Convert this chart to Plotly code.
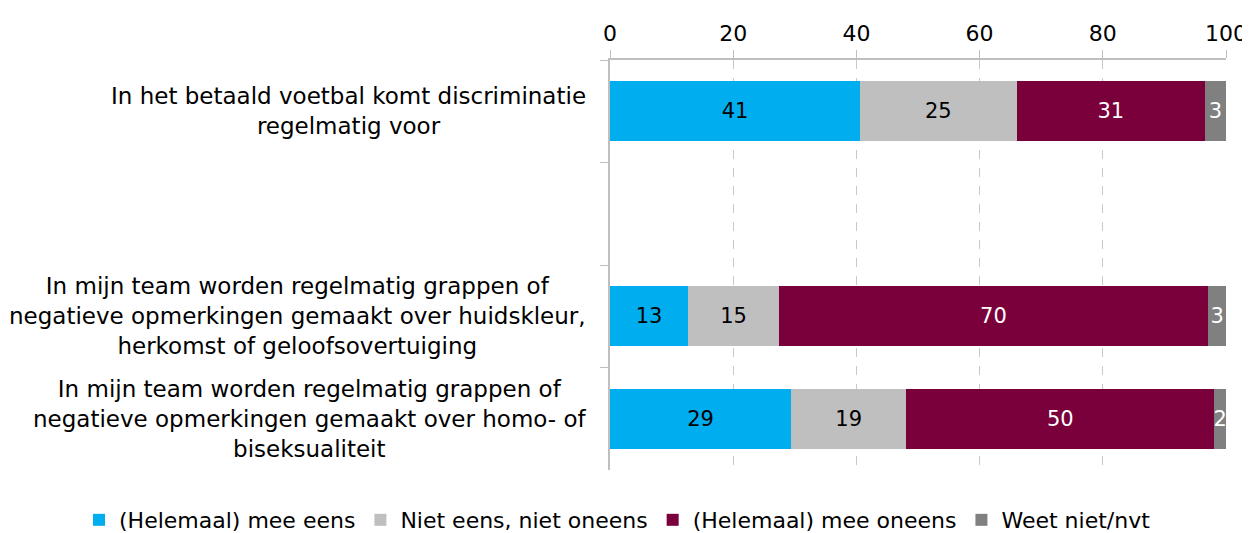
import plotly.graph_objects as go

categories = [
    "In het betaald voetbal komt discriminatie<br>regelmatig voor",
    "gap",
    "In mijn team worden regelmatig grappen of<br>negatieve opmerkingen gemaakt over huidskleur,<br>herkomst of geloofsovertuiging",
    "In mijn team worden regelmatig grappen of<br>negatieve opmerkingen gemaakt over homo- of<br>biseksualiteit",
]
statements = [categories[0], categories[2], categories[3]]

series_names = ["(Helemaal) mee eens", "Niet eens, niet oneens", "(Helemaal) mee oneens", "Weet niet/nvt"]
mee_eens = [40.6, 12.7, 29.4]
neutraal = [25.4, 14.7, 18.7]
oneens = [30.6, 69.7, 50.0]
weet_niet = [3.4, 2.9, 1.9]
series_values = [mee_eens, neutraal, oneens, weet_niet]
colors = ["#00AEEF", "#BFBFBF", "#7A003C", "#808080"]
text_colors = ["#000000", "#000000", "#FFFFFF", "#FFFFFF"]
tick_values = [0, 20, 40, 60, 80, 100]

FONT = "DejaVu Sans, Verdana, sans-serif"

fig = go.Figure()
for name, vals, col, tcol in zip(series_names, series_values, colors, text_colors):
    fig.add_trace(go.Bar(
        name=name,
        y=statements,
        x=vals,
        orientation="h",
        marker=dict(color=col, line=dict(width=0)),
        text=[str(round(v)) for v in vals],
        textposition="inside",
        insidetextanchor="middle",
        constraintext="none",
        textfont=dict(color=tcol, size=21, family=FONT),
        width=0.585,
        hoverinfo="x+name",
    ))

for cat in statements:
    fig.add_annotation(
        x=0, xref="paper", y=cat, yref="y",
        text=cat, showarrow=False,
        xanchor="right", yanchor="middle", align="center",
        xshift=-22,
        font=dict(size=23, family=FONT, color="#000000"),
    )

fig.update_layout(
    barmode="stack",
    width=1242, height=525,
    margin=dict(l=602, r=24, t=52, b=63, autoexpand=False),
    plot_bgcolor="white", paper_bgcolor="white",
    showlegend=True,
    legend=dict(
        orientation="h", x=-0.862, xanchor="left",
        y=-0.122, yanchor="middle",
        font=dict(size=22, family=FONT, color="#000000"),
        itemwidth=30, traceorder="normal",
    ),
    xaxis=dict(
        side="top", range=[0, 100], tickvals=tick_values,
        showgrid=True, gridcolor="#C8C8C8", griddash="dash", gridwidth=1,
        showline=True, linecolor="#BFBFBF", linewidth=1.5,
        ticks="outside", ticklen=8, tickcolor="#BFBFBF",
        tickfont=dict(size=22, family=FONT, color="#000000"),
        zeroline=False, fixedrange=True, automargin=False,
    ),
    yaxis=dict(
        type="category", categoryorder="array", categoryarray=categories,
        autorange="reversed",
        showticklabels=False, tickson="boundaries",
        ticks="outside", ticklen=8, tickcolor="#BFBFBF",
        showline=True, linecolor="#BFBFBF", linewidth=1.5,
        showgrid=False, zeroline=False, fixedrange=True, automargin=False,
    ),
)

fig.write_html("out.html")
